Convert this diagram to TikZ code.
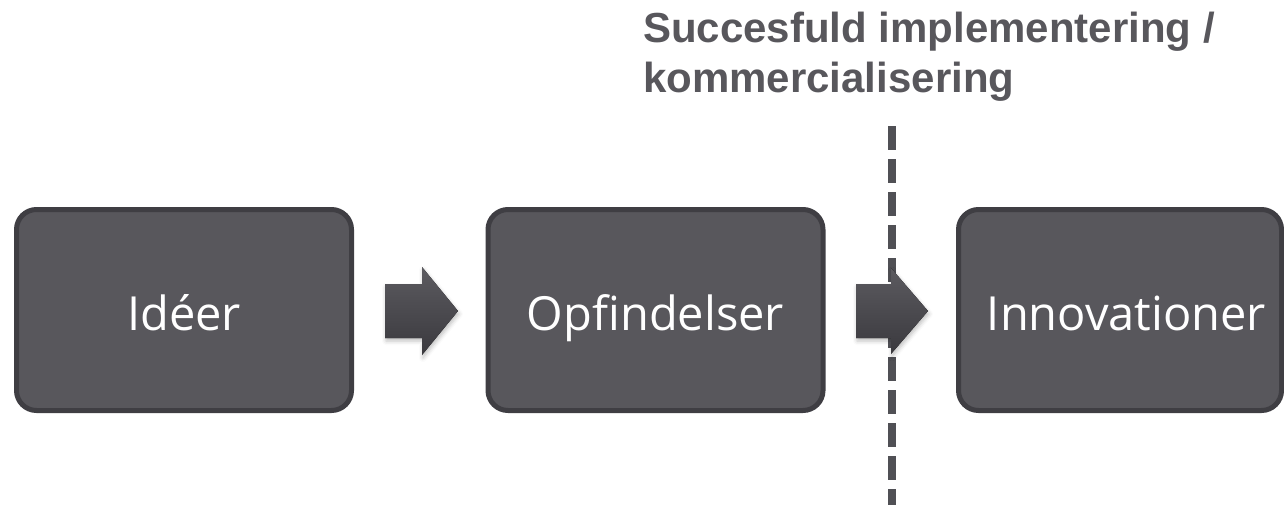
\documentclass[tikz,border=0pt]{standalone}
\usepackage{fontspec}
\setmainfont{Liberation Sans}
\newfontfamily\boxfont{Open Sans}
\usetikzlibrary{shadows.blur}
\definecolor{boxfill}{HTML}{58575C}
\definecolor{boxline}{HTML}{3F3E43}
\definecolor{arrtop}{HTML}{5C5B60}
\definecolor{arrbot}{HTML}{3A393E}
\definecolor{dashcol}{HTML}{505055}
\tikzset{
  stagebox/.style={draw=boxline, fill=boxfill, line width=5pt, rounded corners=20pt,
    minimum width=335pt, minimum height=201pt, inner sep=0pt,
    text height=46pt, text depth=6pt,
    text=white, font=\boxfont\fontsize{47}{56}\selectfont},
  blockarrow/.style={top color=arrtop, bottom color=arrbot, draw=none,
    blur shadow={shadow xshift=1pt, shadow yshift=-3pt, shadow blur radius=4pt, shadow opacity=25}},
  divider/.style={draw=dashcol, line width=8pt, dash pattern=on 24pt off 9pt},
  titletext/.style={text=boxfill, font=\bfseries\fontsize{42}{50}\selectfont, align=left, anchor=base west, inner sep=0pt}
}
\begin{document}
\begin{tikzpicture}[x=1pt,y=-1pt]
\useasboundingbox (0,0) rectangle (1284,504);
% divider line (behind arrows)
\coordinate (dtop) at (892,126);
\coordinate (dbot) at (892,510);
\draw[divider] (dtop) -- (dbot);
% boxes
\node[stagebox] (idea) at (184,310) {Idéer};
\node[stagebox] (inv) at (655.5,310) {Opfindelser};
\node[stagebox, minimum width=323pt] (innov) at (1120,310) {\hspace*{13pt}Innovationer};
% block arrows
\fill[blockarrow] (385,284) -- (422,284) -- (422,267) -- (458,311) -- (422,355) -- (422,338) -- (385,338) -- cycle;
\fill[blockarrow] (856,284) -- (891,284) -- (891,268) -- (928,311) -- (891,354) -- (891,338) -- (856,338) -- cycle;
% title
\node[titletext] (title) at (643,92) {Succesfuld implementering /\\kommercialisering};
\end{tikzpicture}
\end{document}
